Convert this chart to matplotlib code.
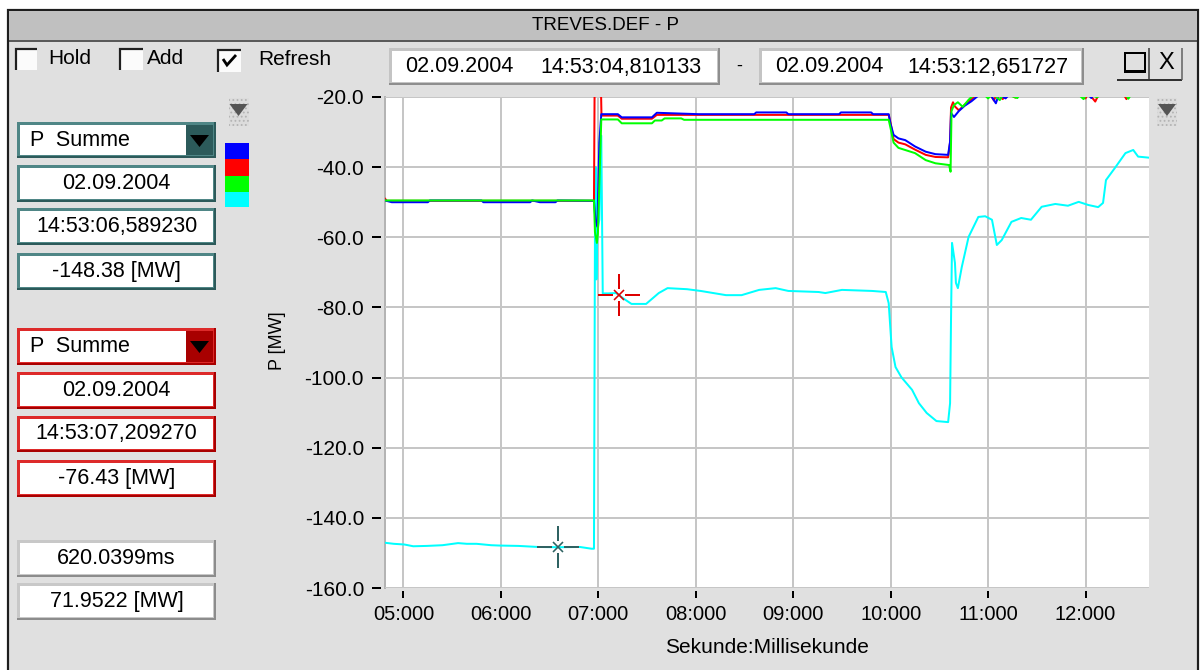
import matplotlib
matplotlib.use("Agg")
import matplotlib.pyplot as plt
from matplotlib.patches import Rectangle, Polygon
from matplotlib.path import Path

plt.rcParams["font.family"] = ["Liberation Sans", "DejaVu Sans"]
plt.rcParams["axes.unicode_minus"] = False
plt.rcParams["hatch.linewidth"] = 0.8

# ---------------------------------------------------------------- data
T_START = 4.810133
T_END = 12.651727

x_ticks = [5, 6, 7, 8, 9, 10, 11, 12]
x_tick_labels = ["05:000", "06:000", "07:000", "08:000", "09:000",
                 "10:000", "11:000", "12:000"]
y_ticks = [-20, -40, -60, -80, -100, -120, -140, -160]
y_tick_labels = ["-20.0", "-40.0", "-60.0", "-80.0", "-100.0",
                 "-120.0", "-140.0", "-160.0"]

cyan_t = [4.810, 4.900, 5.010, 5.100, 5.240, 5.400, 5.560, 5.650, 5.750,
          5.900, 5.990, 6.180, 6.380, 6.589, 6.810, 6.930, 6.955, 6.965,
          6.972, 6.980, 6.990, 7.010, 7.030, 7.045, 7.100, 7.180, 7.209,
          7.260, 7.340, 7.490, 7.620, 7.710, 7.910, 8.050, 8.310, 8.470,
          8.650, 8.820, 8.950, 9.260, 9.330, 9.500, 9.810, 9.950, 9.980,
          10.010, 10.050, 10.110, 10.220, 10.290, 10.370, 10.470, 10.590,
          10.610, 10.620, 10.630, 10.660, 10.670, 10.690, 10.730, 10.800,
          10.900, 10.970, 11.040, 11.090, 11.140, 11.240, 11.340, 11.440,
          11.550, 11.690, 11.820, 11.930, 12.030, 12.130, 12.180, 12.210,
          12.300, 12.410, 12.490, 12.540, 12.652]
cyan_p = [-147.1, -147.4, -147.6, -148.1, -148.0, -147.8, -147.2, -147.4,
          -147.4, -147.8, -147.9, -148.0, -148.3, -148.38, -148.3, -148.8,
          -148.8, -60.0, -40.0, -72.0, -58.0, -55.0, -31.0, -76.0, -76.0,
          -75.9, -76.43, -77.5, -79.0, -79.0, -75.9, -74.5, -74.8, -75.3,
          -76.5, -76.5, -75.0, -74.5, -75.3, -75.6, -75.9, -75.0, -75.3,
          -75.6, -78.8, -91.3, -97.0, -99.9, -103.5, -107.3, -110.1, -112.4,
          -112.7, -107.3, -82.7, -61.6, -67.3, -73.0, -74.5, -68.5, -59.9,
          -54.2, -54.0, -55.0, -62.2, -60.8, -55.6, -54.5, -55.0, -51.3,
          -50.5, -51.0, -49.9, -50.8, -51.4, -50.2, -43.7, -40.3, -36.0,
          -35.1, -37.0, -37.3]

red_t = [4.810, 4.830, 6.955, 6.962, 7.025, 7.032, 7.200, 7.240, 7.550,
         7.600, 9.980, 10.000, 10.030, 10.080, 10.150, 10.250, 10.360,
         10.460, 10.590, 10.610, 10.620, 10.640, 10.660, 10.700, 10.760,
         10.820, 10.880, 10.950, 11.020, 11.060, 11.090, 11.150, 11.200,
         11.280, 11.320, 11.600, 11.950, 12.000, 12.030, 12.100, 12.140,
         12.380, 12.420, 12.450, 12.652]
red_p = [-49.0, -49.6, -49.6, -15.0, -15.0, -25.3, -25.3, -26.2, -26.2,
         -25.1, -25.1, -27.5, -32.0, -33.0, -33.5, -35.0, -36.5, -37.1,
         -37.2, -33.0, -23.0, -21.5, -22.7, -23.8, -22.2, -20.9, -19.4,
         -18.6, -19.2, -21.0, -19.0, -20.6, -18.8, -20.2, -18.6, -18.4,
         -18.8, -20.4, -18.9, -21.3, -19.0, -18.7, -20.6, -18.8, -18.6]

blue_t = [4.810, 4.880, 5.250, 5.270, 5.800, 5.820, 6.300, 6.320, 6.400,
          6.560, 6.580, 6.955, 6.970, 6.990, 7.010, 7.030, 7.200, 7.240,
          7.550, 7.600, 8.030, 8.600, 8.620, 8.930, 8.950, 9.470, 9.490,
          9.800, 9.820, 9.980, 9.997, 10.030, 10.080, 10.150, 10.250,
          10.360, 10.460, 10.590, 10.610, 10.620, 10.650, 10.700, 10.760,
          10.830, 10.900, 10.980, 11.040, 11.080, 11.110, 11.180, 11.230,
          11.600, 12.000, 12.060, 12.090, 12.652]
blue_p = [-49.5, -50.0, -50.0, -49.5, -49.5, -50.0, -50.0, -49.5, -50.0,
          -50.0, -49.5, -49.6, -55.0, -57.0, -33.0, -24.9, -24.9, -25.8,
          -25.8, -24.5, -24.9, -24.9, -24.4, -24.4, -24.9, -24.9, -24.4,
          -24.4, -24.9, -24.9, -27.5, -30.8, -31.8, -32.3, -34.1, -35.6,
          -36.3, -36.5, -32.7, -24.6, -25.7, -24.0, -22.5, -21.2, -19.6,
          -18.7, -20.0, -21.8, -19.3, -20.4, -18.9, -18.4, -18.6, -20.3,
          -18.8, -18.5]

green_t = [4.810, 6.955, 6.965, 6.985, 6.995, 7.030, 7.200, 7.240, 7.550,
           7.580, 7.650, 7.680, 7.850, 7.880, 9.980, 10.000, 10.030, 10.080,
           10.250, 10.360, 10.460, 10.600, 10.615, 10.625, 10.650, 10.690,
           10.740, 10.800, 10.860, 10.940, 11.000, 11.050, 11.120, 11.160,
           11.300, 11.340, 11.900, 11.980, 12.020, 12.120, 12.160, 12.400,
           12.440, 12.480, 12.652]
green_p = [-49.5, -49.5, -58.5, -61.6, -59.0, -26.4, -26.4, -27.5, -27.5,
           -26.7, -26.7, -26.1, -26.1, -26.5, -26.5, -29.0, -33.0, -34.5,
           -36.0, -38.0, -38.9, -39.4, -41.3, -24.0, -22.3, -21.5, -22.8,
           -20.8, -19.2, -18.8, -20.4, -19.0, -20.9, -18.9, -20.3, -18.7,
           -18.6, -20.6, -18.8, -20.1, -18.7, -18.8, -20.5, -18.8, -18.5]

cursor_a = (6.589230, -148.38)
cursor_b = (7.209270, -76.43)

# ---------------------------------------------------------------- figure
W, H = 1203, 670
fig = plt.figure(figsize=(W / 100, H / 100), dpi=100, facecolor="white")

bg = fig.add_axes([0, 0, 1, 1], zorder=0)
bg.set_xlim(0, W)
bg.set_ylim(H, 0)
bg.axis("off")

PX = 0.72  # points per pixel


def rect(x0, y0, x1, y1, fc, ec="none", lw=0, z=1, **kw):
    bg.add_patch(Rectangle((x0, y0), x1 - x0, y1 - y0, facecolor=fc,
                           edgecolor=ec, linewidth=lw, zorder=z, **kw))


def line(xs, ys, color, lw_px, z=3):
    bg.plot(xs, ys, color=color, lw=lw_px * PX, zorder=z,
            solid_capstyle="butt", solid_joinstyle="miter")


def bevel(x0, y0, x1, y1, light, dark, fill="white", t=3):
    rect(x0, y0, x1, y1, dark, z=2)
    rect(x0, y0, x1 - 2, y1 - 2, light, z=2)
    rect(x0 + t, y0 + t, x1 - t, y1 - t, fill, z=2)


def label(x, y, s, size=15.5, ha="center", **kw):
    bg.text(x, y, s, fontsize=size, ha=ha, va="center", color="black",
            zorder=5, **kw)


# window body and title bar
rect(8, 10, 1198, H + 10, "#e0e0e0", ec="#1e1e1e", lw=2.2 * PX)
rect(9, 11, 1197, 40, "#c0c0c0", z=2)
line([9, 1197], [40.5, 40.5], "#3a3a3a", 1.6)
label(606, 26, "TREVES.DEF - P", size=13.5)


# check boxes
def checkbox(x0, y0, x1, y1, checked, text, tx):
    rect(x0, y0, x1, y1, "#fbfbfb", z=2)
    line([x0 + 1, x0 + 1, x1], [y1, y0 + 1, y0 + 1], "#202020", 2.2)
    if checked:
        line([x0 + 6, x0 + 10, x0 + 19], [y0 + 10, y0 + 16, y0 + 6],
             "black", 2.8)
    label(tx, (y0 + y1) / 2 - 1, text, size=15, ha="left")


checkbox(15, 48, 37, 70, False, "Hold", 48)
checkbox(119, 48, 143, 70, False, "Add", 147)
checkbox(217, 49, 241, 72, True, "Refresh", 258)

# time range boxes
bevel(389, 48, 720, 85, "#c4c4c4", "#8e8e8e")
label(405, 67, "02.09.2004", ha="left")
label(540, 67, "14:53:04,810133", ha="left")
label(739, 66, "-", size=13)
bevel(759, 48, 1084, 85, "#c4c4c4", "#8e8e8e")
label(775, 67, "02.09.2004", ha="left")
label(907, 67, "14:53:12,651727", ha="left")

# window buttons
rect(1125, 53, 1145, 72, "none", ec="black", lw=2 * PX, z=3)
line([1125, 1145], [71, 71], "black", 3)
line([1149, 1149], [48, 80], "#404040", 1.6)
label(1166, 63, "X", size=17)
line([1117, 1182], [80, 80], "#303030", 2)
line([1181.5, 1181.5], [48, 80], "#606060", 1.5)


# scroll icons
def scroll_icon(cx, cy):
    rect(cx - 10, cy - 13, cx + 10, cy + 15, "#dcdcdc", ec="#b4b4b4",
         lw=0, z=2, hatch="....")
    bg.add_patch(Polygon([(cx - 9, cy - 7), (cx + 9, cy - 7), (cx, cy + 5)],
                         closed=True, facecolor="#555555", edgecolor="none",
                         zorder=3))


scroll_icon(238.5, 111)
scroll_icon(1167, 111)

# series colour swatches
swatches = [("#0000ff", 143, 159), ("#ff0000", 159, 176),
            ("#00ff00", 176, 192), ("#00ffff", 192, 207)]
for c, y0, y1 in swatches:
    rect(225, y0, 249, y1, c, z=3)


# cursor panels
def dropdown(y0, y1, light, dark, text):
    bevel(17, y0, 216, y1, light, dark)
    rect(186, y0 + 3, 213, y1 - 3, dark, z=3)
    bg.add_patch(Polygon([(190, y0 + 13), (209, y0 + 13), (199.5, y0 + 25)],
                         closed=True, facecolor="black", edgecolor="none",
                         zorder=4))
    label(30, (y0 + y1) / 2, text, ha="left")


def field(y0, y1, light, dark, text):
    bevel(17, y0, 216, y1, light, dark)
    label(116.5, (y0 + y1) / 2, text)


teal_l, teal_d = "#4f8686", "#2c5a5a"
dropdown(122, 158, teal_l, teal_d, "P  Summe")
field(165, 202, teal_l, teal_d, "02.09.2004")
field(208, 245, teal_l, teal_d, "14:53:06,589230")
field(253, 290, teal_l, teal_d, "-148.38 [MW]")

red_l, red_d = "#dd2a2a", "#a80000"
dropdown(328, 365, red_l, red_d, "P  Summe")
field(372, 409, red_l, red_d, "02.09.2004")
field(416, 452, red_l, red_d, "14:53:07,209270")
field(460, 497, red_l, red_d, "-76.43 [MW]")

gray_l, gray_d = "#c8c8c8", "#8c8c8c"
field(540, 577, gray_l, gray_d, "620.0399ms")
field(583, 620, gray_l, gray_d, "71.9522 [MW]")

# ---------------------------------------------------------------- plot
ax = fig.add_axes([385 / W, 1 - 588 / H, (1149 - 385) / W, (588 - 97) / H],
                  zorder=2)
ax.set_facecolor("white")
ax.set_xlim(T_START, T_END)
ax.set_ylim(-160, -20)
ax.set_xticks(x_ticks, x_tick_labels)
ax.set_yticks(y_ticks, y_tick_labels)
ax.grid(True, color="#c6c6c6", lw=2 * PX)
ax.set_axisbelow(True)
for s in ax.spines.values():
    s.set_visible(False)
ax.spines["left"].set_position(("outward", 4 * PX))
ax.spines["bottom"].set_position(("outward", 3 * PX))
ax.axvline(T_START, color="#b4b4b4", lw=2 * PX, clip_on=False, zorder=0.5)

ax.tick_params(axis="y", direction="out", length=9 * PX, width=2 * PX,
               pad=8 * PX, labelsize=15, colors="black")
ax.tick_params(axis="x", direction="out", length=7 * PX, width=2 * PX,
               pad=7 * PX, labelsize=14.5, colors="black")

lw = 2 * PX
ax.plot(cyan_t, cyan_p, color="#00ffff", lw=lw, zorder=2)
ax.plot(red_t, red_p, color="#ff0000", lw=lw, zorder=2.1)
ax.plot(blue_t, blue_p, color="#0000ff", lw=lw, zorder=2.2)
ax.plot(green_t, green_p, color="#00ff00", lw=lw, zorder=2.3)

# cursor cross: four arms with a gap in the middle
g = 0.3
cross = Path([(-1, 0), (-g, 0), (g, 0), (1, 0), (0, -1), (0, -g), (0, g), (0, 1)],
             [Path.MOVETO, Path.LINETO] * 4)
for (cx, cy), col in ((cursor_a, "#2f6262"), (cursor_b, "#dd0000")):
    ax.plot([cx], [cy], marker=cross, ms=43 * PX, mew=2 * PX,
            color=col, zorder=4, clip_on=False)
    ax.plot([cx], [cy], marker="x", ms=10 * PX, mew=1.6 * PX,
            color=col, zorder=4, clip_on=False)

ax.set_ylabel("P [MW]", fontsize=13)
ax.yaxis.label.set_va("center")
ax.yaxis.set_label_coords((278 - 385) / 764, (588 - 341) / 491)
ax.set_xlabel("Sekunde:Millisekunde", fontsize=15)
ax.xaxis.label.set_va("center")
ax.xaxis.set_label_coords(0.5, (588 - 647.5) / 491)

fig.savefig("out.png", dpi=100, facecolor=fig.get_facecolor())
